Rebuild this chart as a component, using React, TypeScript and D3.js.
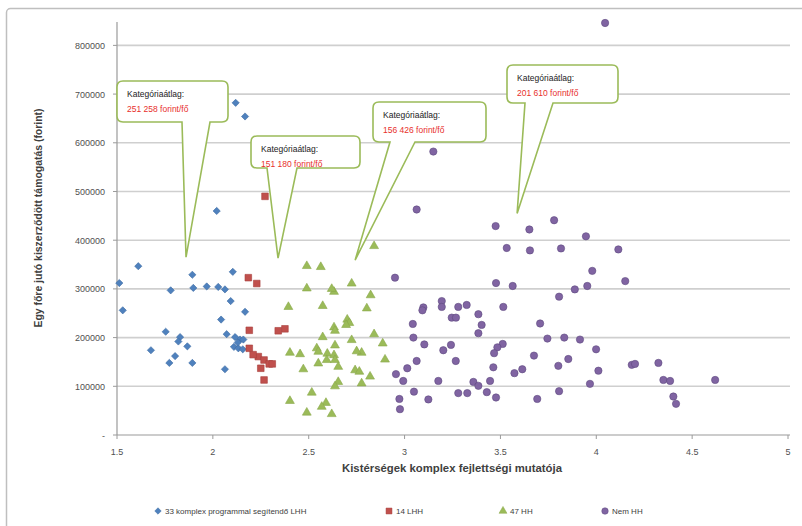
import React from 'react';
import * as d3 from 'd3';

// [x, y] pairs
const lhh33: [number, number][] = [
  [1.611, 346600], [1.512, 312000], [1.530, 256000], [1.780, 297000], [1.893, 329000],
  [1.898, 302000], [1.968, 305000], [2.028, 304000], [2.063, 299000], [2.104, 335000],
  [2.093, 275000], [2.168, 253000], [2.043, 237000], [1.754, 212000], [1.829, 201000],
  [1.820, 192000], [1.867, 182000], [1.677, 174000], [1.803, 162000], [1.773, 148000],
  [1.893, 148000], [2.063, 135000], [2.072, 207000], [2.116, 201000], [2.142, 196000],
  [2.159, 196000], [2.110, 181000], [2.133, 178000], [2.156, 176000], [2.119, 682000],
  [2.168, 654000], [2.020, 460000], [2.130, 190000],
];

const lhh14: [number, number][] = [
  [2.185, 323000], [2.229, 311000], [2.190, 215000], [2.341, 214000], [2.376, 218000],
  [2.190, 178000], [2.237, 161000], [2.267, 154000], [2.294, 146000], [2.310, 146000],
  [2.250, 137000], [2.267, 113000], [2.272, 490000], [2.210, 165000],
];

const hh47: [number, number][] = [
  [2.490, 347000], [2.563, 345000], [2.724, 311000], [2.490, 301000], [2.632, 294000],
  [2.823, 287000], [2.394, 263000], [2.573, 265000], [2.803, 260000], [2.701, 237000],
  [2.712, 230000], [2.695, 226000], [2.632, 221000], [2.637, 214000], [2.841, 207000],
  [2.573, 201000], [2.724, 195000], [2.637, 184000], [2.886, 188000], [2.402, 169000],
  [2.455, 166000], [2.542, 178000], [2.550, 171000], [2.597, 167000], [2.632, 164000],
  [2.776, 169000], [2.594, 154000], [2.637, 154000], [2.550, 147000], [2.898, 155000],
  [2.654, 140000], [2.472, 135000], [2.742, 133000], [2.764, 130000], [2.820, 120000],
  [2.654, 109000], [2.637, 100000], [2.776, 106000], [2.516, 87000], [2.402, 70000],
  [2.590, 66000], [2.568, 58000], [2.490, 46000], [2.620, 43000], [2.841, 388000],
  [2.620, 300000], [2.750, 172000],
];

const nemHH: [number, number][] = [
  [4.046, 846000], [3.150, 582000], [3.063, 463000], [3.475, 429000], [3.651, 422000],
  [3.780, 441000], [3.946, 408000], [3.533, 384000], [3.654, 379000], [3.816, 383000],
  [4.115, 381000], [2.950, 323000], [3.477, 312000], [3.564, 306000], [3.194, 275000],
  [3.194, 263000], [3.098, 262000], [3.093, 256000], [3.280, 263000], [3.324, 267000],
  [3.515, 263000], [3.246, 241000], [3.268, 241000], [3.385, 248000], [3.043, 228000],
  [3.402, 226000], [3.385, 209000], [3.046, 200000], [3.103, 186000], [3.242, 185000],
  [3.512, 187000], [3.484, 180000], [3.202, 174000], [3.467, 168000], [3.063, 152000],
  [3.267, 152000], [3.014, 137000], [3.463, 139000], [2.955, 125000], [2.993, 111000],
  [3.573, 127000], [3.176, 111000], [3.359, 109000], [3.385, 101000], [3.446, 111000],
  [3.049, 89000], [3.280, 86000], [3.327, 86000], [3.429, 88000], [3.477, 77000],
  [2.973, 74000], [3.124, 73000], [2.976, 53000], [3.979, 337000], [4.151, 316000],
  [3.888, 299000], [3.953, 306000], [3.806, 284000], [3.707, 229000], [3.745, 198000],
  [3.833, 200000], [3.915, 196000], [3.999, 176000], [3.675, 163000], [3.854, 156000],
  [3.802, 142000], [3.614, 135000], [4.011, 132000], [4.185, 144000], [4.202, 146000],
  [3.967, 105000], [3.806, 90000], [3.692, 74000], [4.324, 148000], [4.350, 113000],
  [4.385, 111000], [4.402, 79000], [4.416, 64000], [4.620, 113000],
];

const xTicks = [1.5, 2, 2.5, 3, 3.5, 4, 4.5, 5];
const yTicks = [0, 100000, 200000, 300000, 400000, 500000, 600000, 700000, 800000];

const avgLabels = ['251 258 forint/fő', '151 180 forint/fő', '156 426 forint/fő', '201 610 forint/fő'];
// callout tip in data units
const avgTips: [number, number][] = [[1.86, 365000], [2.34, 363000], [2.742, 359000], [3.587, 455000]];

const seriesNames = ['33 komplex programmal segítendő LHH', '14 LHH', '47 HH', 'Nem HH'];

const colors = ['#4F81BD', '#C0504D', '#9BBB59', '#8064A2'];
const strokes = ['#3f6ea5', '#a8403d', '#8aa84a', '#5e4a80'];

const W = 802;
const H = 526;
const margin = { left: 117, right: 14, top: 22, bottom: 91 };

// callout boxes: [left, top, width, height, wedgeLeft, wedgeRight] in px
const boxes = [
  [117, 81, 111, 41, 182, 210],
  [251, 136, 109, 32, 267, 297],
  [373, 102, 113, 40, 390, 415],
  [507, 65, 111, 38, 525, 553],
];

function calloutPath(b: number[], tx: number, ty: number) {
  const [l, t, w, h, wl, wr] = b;
  const r = 6;
  const rgt = l + w;
  const btm = t + h;
  return `M${l + r},${t} H${rgt - r} Q${rgt},${t} ${rgt},${t + r} V${btm - r} Q${rgt},${btm} ${rgt - r},${btm}`
    + ` H${wr} L${tx},${ty} L${wl},${btm} H${l + r} Q${l},${btm} ${l},${btm - r} V${t + r} Q${l},${t} ${l + r},${t} Z`;
}

export default function App() {
  const x = d3.scaleLinear().domain([1.5, 5]).range([margin.left, W - margin.right]);
  const y = d3.scaleLinear().domain([0, 848000]).range([H - margin.bottom, margin.top]);

  // blue markers are square diamonds (a square turned 45 degrees)
  const shapes = [d3.symbolSquare, d3.symbolSquare, d3.symbolTriangle, d3.symbolCircle];
  const rot = [45, 0, 0, 0];
  const sizes = [26, 44, 34, 42];
  const all = [lhh33, lhh14, hh47, nemHH];

  const font = '"Liberation Sans", Arial, sans-serif';
  const legendX = [158, 389, 503, 605];

  return (
    <div style={{ position: 'absolute', left: 0, top: 0 }}>
      <svg width={W} height={H} style={{ display: 'block', background: '#fff' }} fontFamily={font}>
        <rect x={6.5} y={8.5} width={805} height={530} rx={4} fill="#fff" stroke="#bfbfbf" strokeWidth={1.5} />

        {/* grid */}
        {yTicks.filter(t => t > 0).map(t => (
          <line key={t} x1={x(1.5)} x2={x(5) + 2} y1={y(t)} y2={y(t)} stroke="#cfcfcf" strokeWidth={1.6} />
        ))}
        {/* axes */}
        <line x1={x(1.5)} x2={x(1.5)} y1={margin.top} y2={y(0)} stroke="#9a9a9a" strokeWidth={1.2} />
        <line x1={x(1.5)} x2={x(5) + 2} y1={y(0)} y2={y(0)} stroke="#9a9a9a" strokeWidth={1.2} />
        {yTicks.map(t => (
          <line key={'yt' + t} x1={x(1.5) - 4} x2={x(1.5)} y1={y(t)} y2={y(t)} stroke="#9a9a9a" />
        ))}
        {xTicks.map(t => (
          <line key={'xt' + t} x1={x(t)} x2={x(t)} y1={y(0)} y2={y(0) + 4} stroke="#9a9a9a" />
        ))}
        {yTicks.map(t => (
          <text key={'yl' + t} x={x(1.5) - 12} y={y(t) + 3.5} fontSize={9} textAnchor="end" fill="#505050">
            {t === 0 ? '-' : String(t)}
          </text>
        ))}
        {xTicks.map(t => (
          <text key={'xl' + t} x={x(t)} y={y(0) + 20} fontSize={9} textAnchor="middle" fill="#505050">
            {String(t)}
          </text>
        ))}

        <text x={452} y={472} fontSize={10} fontWeight="bold" textAnchor="middle" fill="#404040"
          textLength={220} lengthAdjust="spacingAndGlyphs">Kistérségek komplex fejlettségi mutatója</text>
        <text transform="translate(42,218) rotate(-90)" fontSize={10} fontWeight="bold" textAnchor="middle" fill="#404040"
          textLength={219} lengthAdjust="spacingAndGlyphs">Egy főre jutó kiszerződött támogatás (forint)</text>

        {/* points */}
        {all.map((s, i) => (
          <g key={'s' + i}>
            {s.map((d, j) => (
              <path key={j} transform={`translate(${x(d[0])},${y(d[1])}) rotate(${rot[i]})`}
                d={d3.symbol().type(shapes[i]).size(sizes[i])() as string}
                fill={colors[i]} stroke={strokes[i]} strokeWidth={0.6} />
            ))}
          </g>
        ))}

        {/* callouts */}
        {avgLabels.map((lab, i) => {
          const b = boxes[i];
          return (
            <g key={'c' + i}>
              <path d={calloutPath(b, x(avgTips[i][0]), y(avgTips[i][1]))} fill="#fff" stroke="#9BBB59" strokeWidth={1.6} />
              <text x={b[0] + 10} y={b[1] + 16} fontSize={8.5} fill="#222">Kategóriaátlag:</text>
              <text x={b[0] + 10} y={b[1] + 31} fontSize={8.5} fill="#e8302c">{lab}</text>
            </g>
          );
        })}

        {/* legend */}
        {seriesNames.map((n, i) => (
          <g key={'l' + i}>
            <path transform={`translate(${legendX[i]},511) rotate(${rot[i]})`}
              d={d3.symbol().type(shapes[i]).size(sizes[i] * 0.8)() as string}
              fill={colors[i]} stroke={strokes[i]} strokeWidth={0.5} />
            <text x={legendX[i] + 7} y={514} fontSize={8} fill="#404040">{n}</text>
          </g>
        ))}
      </svg>
    </div>
  );
}
